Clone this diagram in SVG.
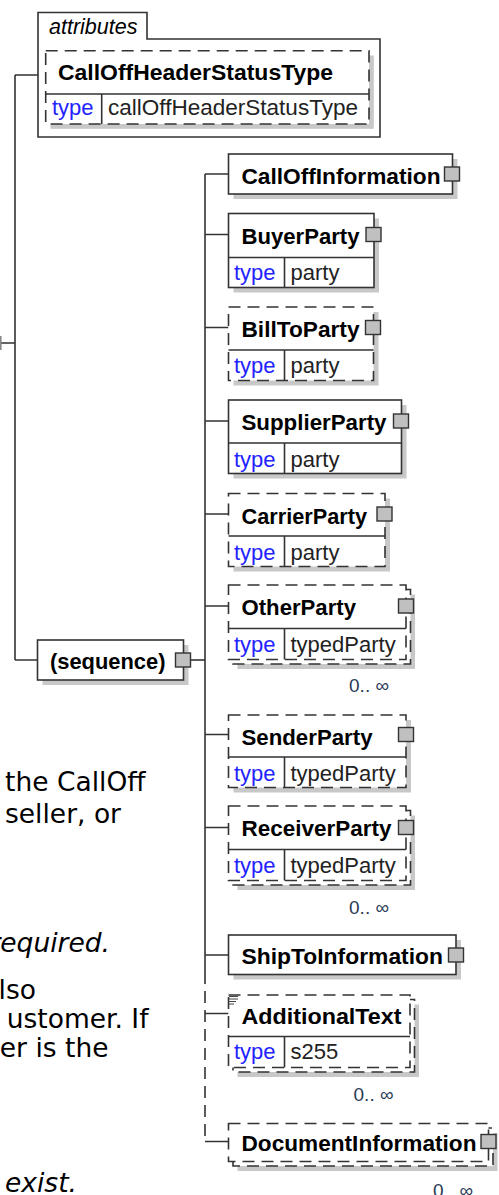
<svg xmlns="http://www.w3.org/2000/svg" width="499" height="1195" viewBox="0 0 499 1195">
<style>
.ln{stroke:#333;stroke-width:1.6;fill:none}
.dl{stroke:#333;stroke-width:1.6;fill:none;stroke-dasharray:12 7}
.box{fill:#fff;stroke:#333;stroke-width:1.6}
.opt{fill:#fff;stroke:#333;stroke-width:1.6;stroke-dasharray:12 7}
.sh{fill:#c8c8c8}
.nm{font-family:"Liberation Sans",Arial,sans-serif;font-weight:bold;font-size:22.5px;fill:#000}
.tk{font-family:"Liberation Sans",Arial,sans-serif;font-size:22px;fill:#2323ff}
.tv{font-family:"Liberation Sans",Arial,sans-serif;font-size:22px;fill:#222}
.at{font-family:"Liberation Sans",Arial,sans-serif;font-style:italic;font-size:21.5px;fill:#000}
.pl{fill:#c0c0c0;stroke:#333;stroke-width:1.4}
.mul{font-family:"Liberation Sans",Arial,sans-serif;font-size:19px;fill:#2b3a55;text-anchor:end}
.doc{font-family:"DejaVu Sans",Verdana,sans-serif;font-size:26.5px;fill:#000}
.it{font-style:italic}
.end{text-anchor:end}
</style>

<g id="connectors">
  <path class="ln" d="M0,343H15M15,75V660M15,75H38M15,660H37.5"/>
  <path d="M0.8,336V350" stroke="#888" stroke-width="1.6"/>
  <path class="ln" d="M190.5,660H205"/>
  <path class="ln" d="M205,174V972"/>
  <path class="dl" d="M205,972V1141.5"/>
  <path class="ln" d="M205,174H228.5M205,234.5H228.5M205,327.5H228.5M205,421H228.5M205,514H228.5M205,606H228.5M205,734.5H228.5M205,827.5H228.5M205,955H228.5M205,1013.5H228.5M205,1141.5H228.5"/>
</g>

<g id="attributes">
  <path class="ln" d="M38,12.5H147V39H380V137H38Z"/>
  <text class="at" x="49" y="34">attributes</text>
</g>

<g id="n-CallOffHeaderStatusType">
  <rect class="sh" x="50.5" y="55.5" width="323.3" height="73.3"/>
  <rect class="opt" x="45.7" y="50.7" width="323.3" height="73.3"/>
  <path class="ln" d="M45.7,94H369M101.7,94V124"/>
  <text class="nm" x="58" y="79.5" textLength="275" lengthAdjust="spacingAndGlyphs">CallOffHeaderStatusType</text>
  <text class="tk" x="52" y="115">type</text>
  <text class="tv" x="108" y="115" textLength="250" lengthAdjust="spacingAndGlyphs">callOffHeaderStatusType</text>
</g>

<g id="n-sequence">
  <rect class="sh" x="42.5" y="645" width="146" height="40"/>
  <rect class="box" x="37.5" y="640" width="146" height="40"/>
  <text class="nm" x="50" y="668.5" textLength="115.5" lengthAdjust="spacingAndGlyphs">(sequence)</text>
  <rect class="pl" x="175.5" y="653" width="15" height="14"/>
</g>

<g id="n-CallOffInformation">
  <rect class="sh" x="233.5" y="159" width="224" height="40"/>
  <rect class="box" x="228.5" y="154" width="224" height="40"/>
  <text class="nm" x="241.5" y="183.5" textLength="199" lengthAdjust="spacingAndGlyphs">CallOffInformation</text>
  <rect class="pl" x="444.5" y="167" width="15" height="14"/>
</g>

<g id="n-BuyerParty">
  <rect class="sh" x="233.5" y="218.5" width="145.5" height="74"/>
  <rect class="box" x="228.5" y="213.5" width="145.5" height="74"/>
  <path class="ln" d="M228.5,257.5H374M284.5,257.5V287.5"/>
  <text class="nm" x="241.5" y="243.5" textLength="118" lengthAdjust="spacingAndGlyphs">BuyerParty</text>
  <text class="tk" x="234" y="280">type</text>
  <text class="tv" x="290.5" y="280">party</text>
  <rect class="pl" x="366" y="227.5" width="15" height="14"/>
</g>

<g id="n-BillToParty">
  <rect class="sh" x="233.5" y="312" width="145" height="73.5"/>
  <rect class="opt" x="228.5" y="307" width="145" height="73.5"/>
  <path class="ln" d="M228.5,350H373.5M284.5,350V380.5"/>
  <text class="nm" x="241.5" y="337" textLength="118" lengthAdjust="spacingAndGlyphs">BillToParty</text>
  <text class="tk" x="234" y="373">type</text>
  <text class="tv" x="290.5" y="373">party</text>
  <rect class="pl" x="365.5" y="320.5" width="15" height="14"/>
</g>

<g id="n-SupplierParty">
  <rect class="sh" x="233.5" y="405" width="173" height="73.5"/>
  <rect class="box" x="228.5" y="400" width="173" height="73.5"/>
  <path class="ln" d="M228.5,443H401.5M284.5,443V473.5"/>
  <text class="nm" x="241.5" y="430" textLength="145" lengthAdjust="spacingAndGlyphs">SupplierParty</text>
  <text class="tk" x="234" y="466.5">type</text>
  <text class="tv" x="290.5" y="466.5">party</text>
  <rect class="pl" x="393.5" y="414" width="15" height="14"/>
</g>

<g id="n-CarrierParty">
  <rect class="sh" x="233.5" y="498.5" width="156.5" height="73"/>
  <rect class="opt" x="228.5" y="493.5" width="156.5" height="73"/>
  <path class="ln" d="M228.5,536H385M284.5,536V566.5"/>
  <text class="nm" x="241.5" y="523.5" textLength="125.5" lengthAdjust="spacingAndGlyphs">CarrierParty</text>
  <text class="tk" x="234" y="559.5">type</text>
  <text class="tv" x="290.5" y="559.5">party</text>
  <rect class="pl" x="377" y="507" width="15" height="14"/>
</g>

<g id="n-OtherParty">
  <rect class="sh" x="237.5" y="594.5" width="177.5" height="74.5"/>
  <rect class="opt" x="233" y="589.5" width="177.5" height="74.5"/>
  <rect class="opt" x="228.5" y="585" width="177.5" height="74.5"/>
  <path class="ln" d="M228.5,628.5H406M284.5,628.5V659.5"/>
  <text class="nm" x="241.5" y="615" textLength="114.5" lengthAdjust="spacingAndGlyphs">OtherParty</text>
  <text class="tk" x="234" y="652">type</text>
  <text class="tv" x="290.5" y="652">typedParty</text>
  <rect class="pl" x="398.5" y="599" width="15" height="14"/>
  <text class="mul" x="389" y="691.5">0.. ∞</text>
</g>

<g id="n-SenderParty">
  <rect class="sh" x="233.5" y="720" width="177.5" height="72.5"/>
  <rect class="opt" x="228.5" y="715" width="177.5" height="72.5"/>
  <path class="ln" d="M228.5,757H406M284.5,757V787.5"/>
  <text class="nm" x="241.5" y="745" textLength="131" lengthAdjust="spacingAndGlyphs">SenderParty</text>
  <text class="tk" x="234" y="780.5">type</text>
  <text class="tv" x="290.5" y="780.5">typedParty</text>
  <rect class="pl" x="398.5" y="727.5" width="15" height="14"/>
</g>

<g id="n-ReceiverParty">
  <rect class="sh" x="237.5" y="815.5" width="177.5" height="74.5"/>
  <rect class="opt" x="233" y="810.5" width="177.5" height="74.5"/>
  <rect class="opt" x="228.5" y="806" width="177.5" height="74.5"/>
  <path class="ln" d="M228.5,849.5H406M284.5,849.5V880.5"/>
  <text class="nm" x="241.5" y="836" textLength="150" lengthAdjust="spacingAndGlyphs">ReceiverParty</text>
  <text class="tk" x="234" y="873">type</text>
  <text class="tv" x="290.5" y="873">typedParty</text>
  <rect class="pl" x="398.5" y="820.5" width="15" height="14"/>
  <text class="mul" x="389" y="913.5">0.. ∞</text>
</g>

<g id="n-ShipToInformation">
  <rect class="sh" x="233.5" y="940" width="227.5" height="39.5"/>
  <rect class="box" x="228.5" y="935" width="227.5" height="39.5"/>
  <text class="nm" x="241.5" y="964" textLength="201.5" lengthAdjust="spacingAndGlyphs">ShipToInformation</text>
  <rect class="pl" x="448.5" y="948" width="15" height="14"/>
</g>

<g id="n-AdditionalText">
  <rect class="sh" x="237.5" y="1004.5" width="181.5" height="72.5"/>
  <rect class="opt" x="233" y="999.5" width="181.5" height="72.5"/>
  <rect class="opt" x="228.5" y="995" width="181.5" height="72.5"/>
  <path class="ln" d="M228.5,1036.5H410M284.5,1036.5V1067.5"/>
  <path d="M229,996.5h9M229,999h9M229,1001.5h7M229,1004h5" stroke="#444" stroke-width="1"/>
  <text class="nm" x="241.5" y="1023.5" textLength="160" lengthAdjust="spacingAndGlyphs">AdditionalText</text>
  <text class="tk" x="234" y="1059">type</text>
  <text class="tv" x="290.5" y="1059">s255</text>
  <text class="mul" x="393.5" y="1101">0.. ∞</text>
</g>

<g id="n-DocumentInformation">
  <rect class="sh" x="237.5" y="1133" width="260" height="38"/>
  <rect class="opt" x="233" y="1128" width="260" height="38"/>
  <rect class="opt" x="228.5" y="1123.5" width="260" height="38"/>
  <text class="nm" x="241.5" y="1150.5" textLength="235" lengthAdjust="spacingAndGlyphs">DocumentInformation</text>
  <rect class="pl" x="481" y="1134.5" width="15" height="14"/>
  <text class="mul" x="473" y="1197">0.. ∞</text>
</g>

<g id="page-text">
  <text class="doc" x="5" y="790.5">the CallOff</text>
  <text class="doc" x="5" y="822.5">seller, or</text>
  <text class="doc it end" x="110" y="951.5">required.</text>
  <text class="doc end" x="36" y="999">lso</text>
  <text class="doc end" x="148.5" y="1028">ustomer. If</text>
  <text class="doc end" x="108.5" y="1057">er is the</text>
  <text class="doc it" x="5" y="1192">exist.</text>
</g>
</svg>
